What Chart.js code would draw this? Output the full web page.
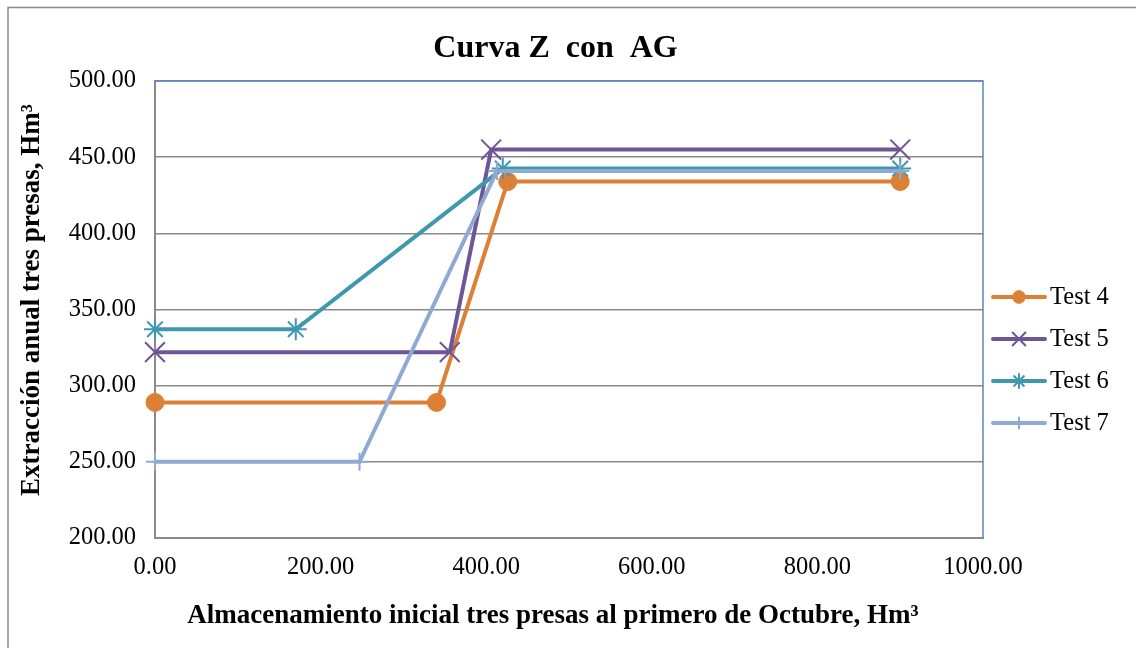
<!DOCTYPE html>
<html>
<head>
<meta charset="utf-8">
<title>Curva Z con AG</title>
<script src="https://cdn.jsdelivr.net/npm/chart.js@4.4.0/dist/chart.umd.min.js"></script>
<style>
  html, body { margin: 0; padding: 0; background: #fff; overflow: hidden; }
  #wrap { position: relative; width: 1136px; height: 648px; }
</style>
</head>
<body>
<div id="wrap"><canvas id="chart"></canvas></div>
<script>
// Valores (almacenamiento, extracción)
const seriesNames = ["Test 4", "Test 5", "Test 6", "Test 7"];
const test4X = [0, 340, 426, 900];
const test4Y = [289, 289, 434, 434];
const test5X = [0, 356, 406, 900];
const test5Y = [322, 322, 455, 455];
const test6X = [0, 170, 420, 900];
const test6Y = [337, 337, 442.5, 442.5];
const test7X = [0, 247, 413, 900];
const test7Y = [250, 250, 441, 441];
const xTicks = [0, 200, 400, 600, 800, 1000];
const yTicks = [200, 250, 300, 350, 400, 450, 500];

const SERIF = "'Liberation Serif', 'Times New Roman', serif";
Chart.defaults.font.family = SERIF;
Chart.defaults.color = "#000";

function toPoints(xs, ys) {
  return xs.map((x, i) => ({ x: x, y: ys[i] }));
}

const estilos = [
  { color: "#dd8035", pointStyle: "circle", radius: 9, pbw: 1 },
  { color: "#6e5596", pointStyle: "crossRot", radius: 14, pbw: 2 },
  { color: "#3e98ae", pointStyle: "star", radius: 11, pbw: 2 },
  { color: "#8eaad3", pointStyle: "cross", radius: 9, pbw: 2 },
];
const valores = [
  [test4X, test4Y],
  [test5X, test5Y],
  [test6X, test6Y],
  [test7X, test7Y],
];

const datasets = seriesNames.map((name, i) => ({
  label: name,
  data: toPoints(valores[i][0], valores[i][1]),
  showLine: true,
  borderColor: estilos[i].color,
  backgroundColor: estilos[i].color,
  borderWidth: 4,
  pointStyle: estilos[i].pointStyle,
  pointRadius: estilos[i].radius,
  pointBackgroundColor: estilos[i].color,
  pointBorderColor: estilos[i].color,
  pointBorderWidth: estilos[i].pbw,
  order: seriesNames.length - i,
  clip: false,
}));

// Marco exterior, borde azul del área de trazado y títulos
const marcoPlugin = {
  id: "marco",
  beforeDraw(chart) {
    const ctx = chart.ctx;
    ctx.save();
    ctx.strokeStyle = "#8a8a8a";
    ctx.lineWidth = 1.5;
    ctx.beginPath();
    ctx.moveTo(8, 700);
    ctx.lineTo(8, 7.5);
    ctx.lineTo(1200, 7.5);
    ctx.stroke();
    ctx.restore();
  },
  beforeDatasetsDraw(chart) {
    const { ctx, chartArea } = chart;
    ctx.save();
    ctx.strokeStyle = "#5b87c4";
    ctx.lineWidth = 1.5;
    ctx.beginPath();
    ctx.moveTo(chartArea.left, chartArea.top);
    ctx.lineTo(chartArea.right, chartArea.top);
    ctx.lineTo(chartArea.right, chartArea.bottom);
    ctx.stroke();
    ctx.restore();
  },
  afterDraw(chart) {
    const ctx = chart.ctx;
    ctx.save();
    ctx.fillStyle = "#000";
    ctx.textAlign = "center";
    ctx.textBaseline = "alphabetic";
    ctx.font = "bold 32px " + SERIF;
    ctx.fillText("Curva Z  con  AG", 555.5, 57);
    ctx.font = "bold 27px " + SERIF;
    ctx.fillText("Almacenamiento inicial tres presas al primero de Octubre, Hm³", 553, 623);
    ctx.translate(39, 300);
    ctx.rotate(-Math.PI / 2);
    ctx.fillText("Extracción anual tres presas, Hm³", 0, 0);
    ctx.restore();
  },
};

// Leyenda a la derecha con línea y marcador
const leyendaPlugin = {
  id: "leyenda",
  afterDraw(chart) {
    const ctx = chart.ctx;
    chart.data.datasets.forEach((ds, i) => {
      const y = 297 + i * 42;
      ctx.save();
      ctx.strokeStyle = ds.borderColor;
      ctx.lineWidth = ds.borderWidth;
      ctx.lineCap = "round";
      ctx.beginPath();
      ctx.moveTo(993, y);
      ctx.lineTo(1045, y);
      ctx.stroke();
      ctx.lineCap = "butt";
      ctx.fillStyle = ds.pointBackgroundColor;
      ctx.strokeStyle = ds.pointBorderColor;
      ctx.lineWidth = ds.pointBorderWidth;
      Chart.helpers.drawPoint(ctx, {
        pointStyle: ds.pointStyle,
        radius: ds.pointRadius * 0.7,
        rotation: 0,
        borderWidth: ds.pointBorderWidth,
      }, 1019, y);
      ctx.fillStyle = "#000";
      ctx.font = "24.5px " + SERIF;
      ctx.textAlign = "left";
      ctx.textBaseline = "middle";
      ctx.fillText(ds.label, 1050, y + 1);
      ctx.restore();
    });
  },
};

new Chart(document.getElementById("chart"), {
  type: "scatter",
  data: { datasets: datasets },
  options: {
    responsive: true,
    maintainAspectRatio: false,
    animation: false,
    layout: { padding: { left: 0, top: 81, right: 153, bottom: 50 } },
    plugins: {
      legend: { display: false },
      title: { display: false },
      tooltip: { enabled: false },
    },
    scales: {
      x: {
        type: "linear",
        min: xTicks[0],
        max: xTicks[xTicks.length - 1],
        afterBuildTicks: (scale) => { scale.ticks = xTicks.map((v) => ({ value: v })); },
        afterFit: (scale) => { scale.height = 60; },
        grid: { display: false, drawTicks: false },
        border: { display: true, color: "#8a8a8a", width: 2 },
        ticks: {
          padding: 15,
          font: { size: 24.5 },
          callback: (v) => Number(v).toFixed(2),
        },
      },
      y: {
        type: "linear",
        min: yTicks[0],
        max: yTicks[yTicks.length - 1],
        afterBuildTicks: (scale) => { scale.ticks = yTicks.map((v) => ({ value: v })); },
        afterFit: (scale) => { scale.width = 155; },
        grid: { color: "#8a8a8a", lineWidth: 1.5, drawTicks: false },
        border: { display: true, color: "#8a8a8a", width: 2 },
        ticks: {
          padding: 19,
          font: { size: 24.5 },
          callback: (v) => Number(v).toFixed(2),
        },
      },
    },
  },
  plugins: [marcoPlugin, leyendaPlugin],
});
</script>
</body>
</html>
